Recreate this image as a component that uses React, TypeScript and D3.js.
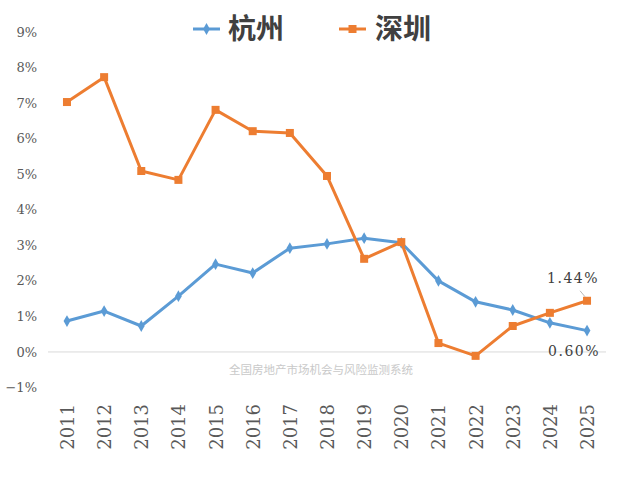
import React from "react";
import * as d3 from "d3";

const years = ["2011","2012","2013","2014","2015","2016","2017","2018","2019","2020","2021","2022","2023","2024","2025"];
const hangzhou = [0.87,1.15,0.73,1.57,2.47,2.22,2.92,3.04,3.20,3.07,2.00,1.41,1.18,0.82,0.60];
const shenzhen = [7.03,7.73,5.09,4.84,6.81,6.21,6.16,4.95,2.62,3.09,0.25,-0.11,0.73,1.10,1.44];
const yTicks = [-1,0,1,2,3,4,5,6,7,8,9];

const W = 619, H = 477;
const BLUE = "#5B9BD5", ORANGE = "#ED7D31";
const SERIF = "DejaVu Serif";
const CJK = "Noto Sans CJK SC";

export default function App() {
  const x = d3.scaleBand().domain(years).range([48.4, 605.6]);
  const y = d3.scaleLinear().domain([-1, 9]).range([387.5, 32]);
  const cx = (yr: string) => (x(yr) as number) + x.bandwidth() / 2;
  const line = d3.line<number>().x((_, i) => cx(years[i])).y((d) => y(d));
  const diamond = d3.symbol().type(d3.symbolDiamond).size(40)();

  const lastI = years.length - 1;
  const serifStyle = { fontFamily: SERIF };
  return (
    <svg width={W} height={H} style={{ position: "absolute", left: 0, top: 0, background: "#fff" }}>
      <line x1={48} x2={606} y1={y(0)} y2={y(0)} stroke="#d9d9d9" strokeWidth={1} />
      {yTicks.map((t) => (
        <text key={t} x={37} y={y(t)} dy="0.35em" textAnchor="end" style={serifStyle} fontSize={13} fill="#595959">
          {t < 0 ? "\u2212" + Math.abs(t) + "%" : t + "%"}
        </text>
      ))}
      {years.map((yr) => (
        <text key={yr} transform={`translate(${cx(yr) + 7},${404}) rotate(-90)`} textAnchor="end" style={serifStyle} fontSize={18} fill="#595959">
          {yr}
        </text>
      ))}
      <text x={321} y={374} textAnchor="middle" style={{ fontFamily: CJK }} fontSize={11.5} fill="#c9c9c9">全国房地产市场机会与风险监测系统</text>

      <path d={line(hangzhou) || ""} fill="none" stroke={BLUE} strokeWidth={3} strokeLinejoin="round" />
      {hangzhou.map((v, i) => (
        <path key={i} d={diamond || ""} transform={`translate(${cx(years[i])},${y(v)})`} fill={BLUE} />
      ))}
      <path d={line(shenzhen) || ""} fill="none" stroke={ORANGE} strokeWidth={3} strokeLinejoin="round" />
      {shenzhen.map((v, i) => (
        <rect key={i} x={cx(years[i]) - 4} y={y(v) - 4} width={8} height={8} fill={ORANGE} />
      ))}

      <line x1={cx(years[lastI]) - 7} y1={y(shenzhen[lastI]) - 10} x2={cx(years[lastI]) - 2} y2={y(shenzhen[lastI]) - 4} stroke="#a6a6a6" strokeWidth={0.8} />
      <text x={cx(years[lastI]) - 14} y={y(shenzhen[lastI]) - 18} textAnchor="middle" style={serifStyle} fontSize={14} letterSpacing={1.5} fill="#404040">{shenzhen[lastI].toFixed(2) + "%"}</text>
      <text x={cx(years[lastI]) - 13} y={y(hangzhou[lastI]) + 25} textAnchor="middle" style={serifStyle} fontSize={14} letterSpacing={1.5} fill="#404040">{hangzhou[lastI].toFixed(2) + "%"}</text>

      <g>
        <line x1={193} x2={220} y1={29} y2={29} stroke={BLUE} strokeWidth={3} />
        <path d={diamond || ""} transform="translate(206.5,29)" fill={BLUE} />
        <text x={228} y={29} dy="0.36em" style={{ fontFamily: CJK }} fontWeight={700} fontSize={28} fill="#404040">杭州</text>
        <line x1={339} x2={366} y1={29} y2={29} stroke={ORANGE} strokeWidth={3} />
        <rect x={348.5} y={25} width={8} height={8} fill={ORANGE} />
        <text x={375} y={29} dy="0.36em" style={{ fontFamily: CJK }} fontWeight={700} fontSize={28} fill="#404040">深圳</text>
      </g>
    </svg>
  );
}
